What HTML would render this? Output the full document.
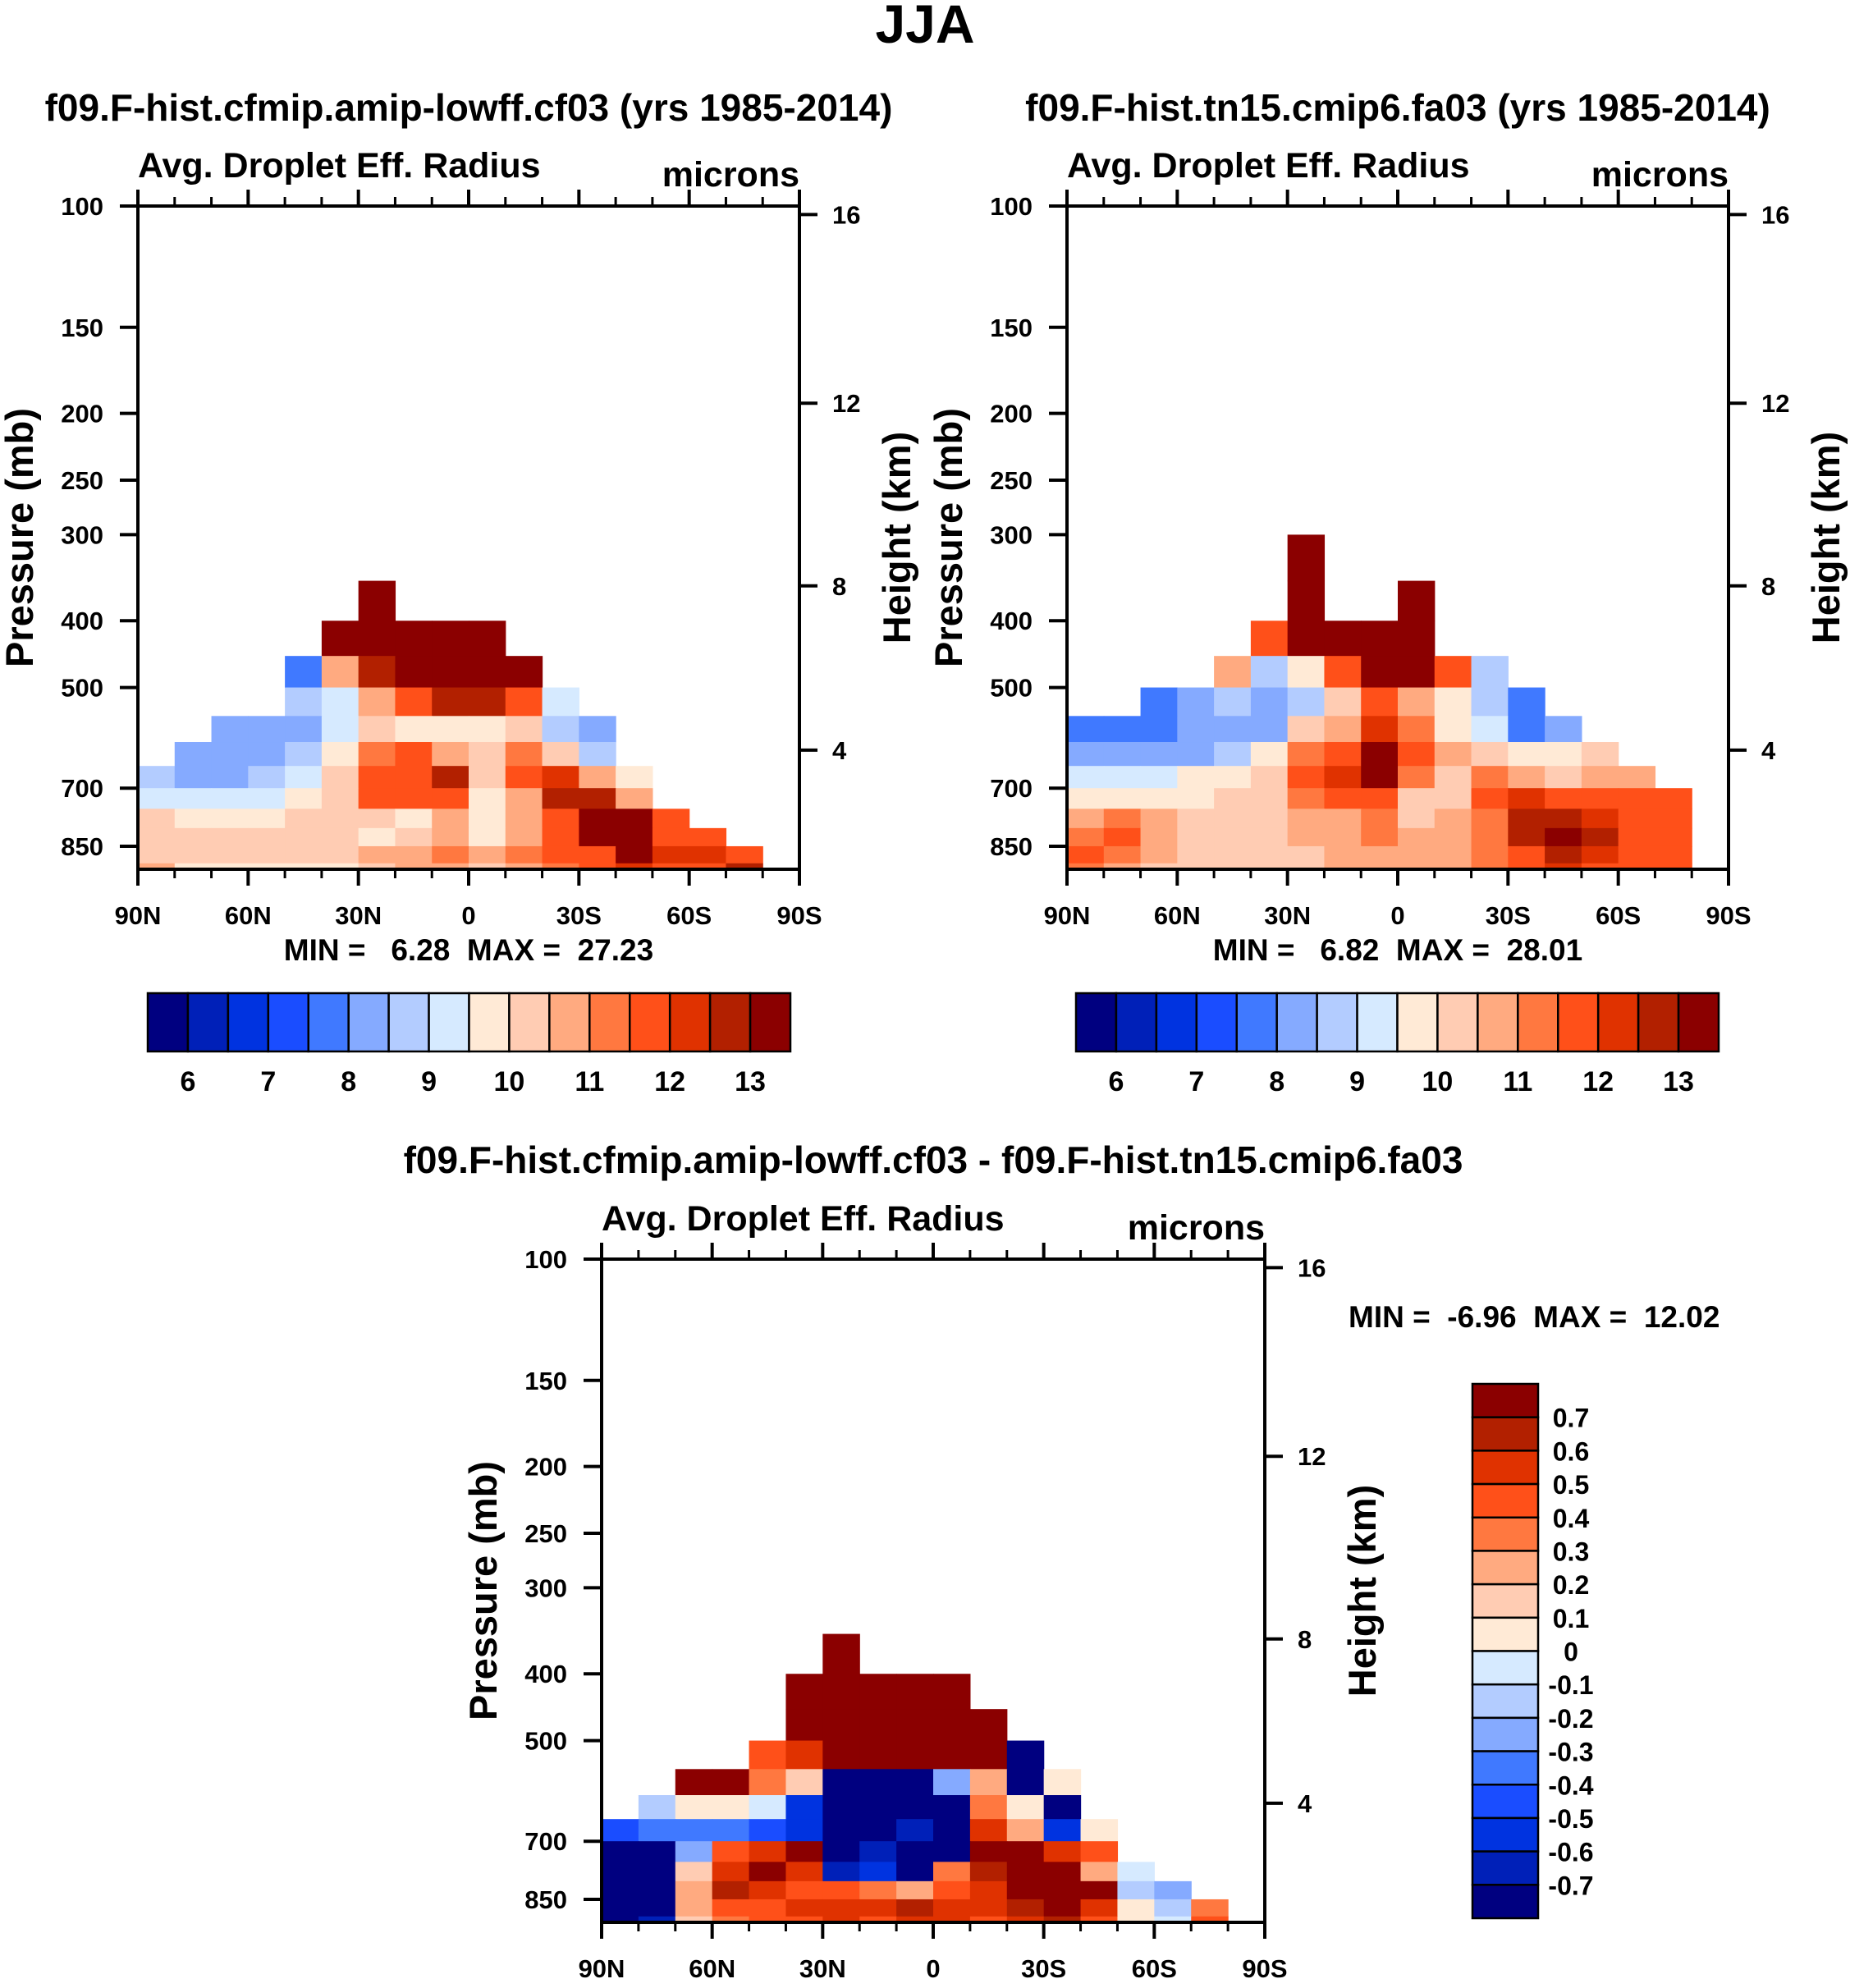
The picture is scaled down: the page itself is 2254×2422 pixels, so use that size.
<!DOCTYPE html>
<html><head><meta charset="utf-8"><style>
html,body{margin:0;padding:0;background:#fff;}
svg text{font-family:"Liberation Sans",sans-serif;font-weight:bold;fill:#000;white-space:pre;}
</style></head><body>
<svg id="fig" xmlns="http://www.w3.org/2000/svg" width="2254" height="2417" viewBox="0 0 2254 2417">
<rect width="2254" height="2417" fill="#fff"/>
<text x="1127" y="52" font-size="66" text-anchor="middle">JJA</text>
</svg>
<script>
const n = null;
const colors = ["#000080","#0020b8","#0033e0","#1a4dff","#4079ff","#85aaff","#b3ccff","#d6eaff","#ffead6","#ffccb3","#ffaa80","#ff7840","#ff5019","#e03200","#b22000","#8b0000"];
const absBounds = [6,6.5,7,7.5,8,8.5,9,9.5,10,10.5,11,11.5,12,12.5,13];
const absLabels = ["6","7","8","9","10","11","12","13"];
const diffBounds = [-0.7,-0.6,-0.5,-0.4,-0.3,-0.2,-0.1,0,0.1,0.2,0.3,0.4,0.5,0.6,0.7];
const diffLabels = ["0.7","0.6","0.5","0.4","0.3","0.2","0.1","0","-0.1","-0.2","-0.3","-0.4","-0.5","-0.6","-0.7"];
const latEdges = [90,80,70,60,50,40,30,20,10,0,-10,-20,-30,-40,-50,-60,-70,-80,-90];
const pEdges = [300,350,400,450,500,550,600,650,700,750,800,850,900,918];
const pTicks = [100,150,200,250,300,400,500,700,850];
const zTicks = [4,8,12,16];
const latTicks = [90,60,30,0,-30,-60,-90];
const latTickLabels = ["90N","60N","30N","0","30S","60S","90S"];
const ctrlData = [
[n,n,n,n,n,n,n,n,n,n,n,n,n,n,n,n,n,n],
[n,n,n,n,n,n,14,n,n,n,n,n,n,n,n,n,n,n],
[n,n,n,n,n,14,14,14,14,14,n,n,n,n,n,n,n,n],
[n,n,n,n,8,11,13,14,14,14,14,n,n,n,n,n,n,n],
[n,n,n,n,9,9.5,11,12,13,13,12,9.5,n,n,n,n,n,n],
[n,n,8.5,8.5,8.5,9.5,10.5,10,10,10,10.5,9,8.5,n,n,n,n,n],
[n,8.5,8.5,8.5,9,10,11.5,12,11,10.5,11.5,10.5,9,n,n,n,n,n],
[9,8.5,8.5,9,9.5,10.5,12,12,13,10.5,12,12.5,11,10,n,n,n,n],
[9.5,9.5,9.5,9.5,10,10.5,12,12,12,10,11,13,13,11,n,n,n,n],
[10.5,10,10,10,10.5,10.5,10.5,10,11,10,11,12,13.5,13.5,12,n,n,n],
[10.5,10.5,10.5,10.5,10.5,10.5,10,10.5,11,10,11,12,13.5,14,12,12,n,n],
[10.5,10.5,10.5,10.5,10.5,10.5,11,11,11.5,11,11.5,12,12,13.5,12.5,12.5,12,n],
[11,10,10,10,10,10,10.5,11,11,10.5,11,11.5,12,12.5,12,12,13,n]];
const testData = [
[n,n,n,n,n,n,14,n,n,n,n,n,n,n,n,n,n,n],
[n,n,n,n,n,n,14,n,n,14,n,n,n,n,n,n,n,n],
[n,n,n,n,n,12,14,14,14,14,n,n,n,n,n,n,n,n],
[n,n,n,n,11,9,10,12,14,13.5,12,9,n,n,n,n,n,n],
[n,n,8,8.5,9,8.5,9,10.5,12,11,10,9,8,n,n,n,n,n],
[8,8,8,8.5,8.5,8.5,10.5,11,12.5,11.5,10,9.5,8,8.5,n,n,n,n],
[8.5,8.5,8.5,8.5,9,10,11.5,12,13.5,12,11,10.5,10,10,10.5,n,n,n],
[9.5,9.5,9.5,10,10,10.5,12,12.5,13.5,11.5,10.5,11.5,11,10.5,11,11,n,n],
[10,10,10,10,10.5,10.5,11.5,12,12,10.5,10.5,12,12.5,12,12,12,12,n],
[11,11.5,11,10.5,10.5,10.5,11,11,11.5,10.5,11,11.5,13,13,12.5,12,12,n],
[11.5,12,11,10.5,10.5,10.5,11,11,11.5,11,11,11.5,13,14,13,12,12,n],
[12,11.5,11,10.5,10.5,10.5,10.5,11,11,11,11,11.5,12,13,12.5,12,12,n],
[11.5,11,10.5,10.5,10.5,10.5,10.5,11,11,11,11,11.5,12,12.5,12,12,12,n]];
const diffData = [
[n,n,n,n,n,n,n,n,n,n,n,n,n,n,n,n,n,n],
[n,n,n,n,n,n,0.8,n,n,n,n,n,n,n,n,n,n,n],
[n,n,n,n,n,0.8,0.8,0.8,0.8,0.8,n,n,n,n,n,n,n,n],
[n,n,n,n,n,0.8,0.8,0.8,0.8,0.8,0.8,n,n,n,n,n,n,n],
[n,n,n,n,0.5,0.6,0.8,0.8,0.8,0.8,0.8,-0.8,n,n,n,n,n,n],
[n,n,0.8,0.8,0.4,0.2,-0.8,-0.8,-0.8,-0.2,0.3,-0.8,0.1,n,n,n,n,n],
[n,-0.1,0.1,0.1,0,-0.5,-0.8,-0.8,-0.8,-0.8,0.4,0.1,-0.8,n,n,n,n,n],
[-0.4,-0.3,-0.3,-0.3,-0.4,-0.5,-0.8,-0.8,-0.6,-0.8,0.6,0.3,-0.5,0.1,n,n,n,n],
[-0.8,-0.8,-0.2,0.5,0.6,0.8,-0.8,-0.6,-0.8,-0.8,0.8,0.8,0.6,0.5,n,n,n,n],
[-0.8,-0.8,0.2,0.6,0.8,0.6,-0.6,-0.5,-0.8,0.4,0.7,0.8,0.8,0.3,0,n,n,n],
[-0.8,-0.8,0.3,0.7,0.6,0.5,0.5,0.4,0.3,0.5,0.6,0.8,0.8,0.8,-0.1,-0.2,n,n],
[-0.8,-0.7,0.3,0.5,0.5,0.6,0.6,0.6,0.7,0.6,0.6,0.7,0.8,0.6,0.1,-0.1,0.4,n],
[-0.8,-0.6,0.2,0.4,0.5,0.5,0.6,0.5,0.6,0.6,0.5,0.6,0.7,0.5,0.1,0,0.5,n]];

const svg = document.getElementById('fig');
const NS = 'http://www.w3.org/2000/svg';
function mk(tag, attrs, parent){const e=document.createElementNS(NS,tag);for(const k in attrs)e.setAttribute(k,attrs[k]);(parent||svg).appendChild(e);return e;}
function txt(s, attrs, parent){const e=mk('text',attrs,parent);e.textContent=s;return e;}
function colorOf(v,b){let i=0;while(i<b.length&&v>b[i]+1e-9)i++;return colors[i];}
function zToP(z){const m=z*1000; return m<=11000?1013.25*Math.pow(1-2.25577e-5*m,5.25588):226.32*Math.exp(-(m-11000)/6341.6);}

function panel(x0,y0,w,h,data,bounds,name){
  const g=mk('g',{});
  
  
  const l0=Math.log(100), l1=Math.log(918);
  const xS=lat=>x0+(90-lat)/180*w;
  const yS=p=>y0+(Math.log(p)-l0)/(l1-l0)*h;
  const yZ=z=>yS(zToP(z));
  for(let r=0;r<data.length;r++)for(let c=0;c<data[r].length;c++){
    const v=data[r][c]; if(v===null)continue;
    const xa=xS(latEdges[c]), xb=xS(latEdges[c+1]), ya=yS(pEdges[r]), yb=yS(pEdges[r+1]);
    const cell=mk('rect',{x:xa,y:ya,width:xb-xa+0.6,height:yb-ya+0.6,fill:colorOf(v,bounds)},g);
    
    
  }
  const fr=mk('rect',{x:x0,y:y0,width:w,height:h,fill:'none',stroke:'#000','stroke-width':4},g);
  
  
  for(let lat=90;lat>=-90;lat-=10){
    const x=xS(lat), maj=(lat%30===0), L=maj?20:11;
    mk('line',{x1:x,y1:y0,x2:x,y2:y0-L,stroke:'#000','stroke-width':maj?4:3},g);
    mk('line',{x1:x,y1:y0+h,x2:x,y2:y0+h+L,stroke:'#000','stroke-width':maj?4:3},g);
  }
  latTicks.forEach((lat,i)=>{
    const t=txt(latTickLabels[i],{x:xS(lat),y:y0+h+67,'font-size':31,'text-anchor':'middle'},g);
    
    
  });
  pTicks.forEach(p=>{
    const y=yS(p);
    mk('line',{x1:x0,y1:y,x2:x0-22,y2:y,stroke:'#000','stroke-width':4},g);
    const t=txt(String(p),{x:x0-42,y:y+11,'font-size':31,'text-anchor':'end'},g);
    
    
  });
  zTicks.forEach(z=>{
    const y=yZ(z);
    mk('line',{x1:x0+w,y1:y,x2:x0+w+22,y2:y,stroke:'#000','stroke-width':4},g);
    const t=txt(String(z),{x:x0+w+40,y:y+11,'font-size':31},g);
    
    
  });
  const yl=txt('Pressure (mb)',{x:0,y:0,'font-size':47,'text-anchor':'middle',transform:`translate(${x0-128},${y0+h/2}) rotate(-90)`},g);
  
  
  const zl=txt('Height (km)',{x:0,y:0,'font-size':47,'text-anchor':'middle',transform:`translate(${x0+w+135},${y0+h/2}) rotate(-90)`},g);
  
  
  const a=txt('Avg. Droplet Eff. Radius',{x:x0,y:y0-35,'font-size':43},g);
  
  
  const u=txt('microns',{x:x0+w,y:y0-24,'font-size':43,'text-anchor':'end'},g);
  
  
}

function hbar(x0,y0,w,h,labels,name){
  const g=mk('g',{});
  
  
  const bw=w/colors.length;
  colors.forEach((c,i)=>{const r=mk('rect',{x:x0+i*bw,y:y0,width:bw,height:h,fill:c,stroke:'#000','stroke-width':2.5},g);
    
    });
  labels.forEach((s,i)=>{const t=txt(s,{x:x0+(2*i+1)*bw,y:y0+h+48,'font-size':34,'text-anchor':'middle'},g);
    
    });
}
function vbar(x0,y0,w,h,labels,name){
  const g=mk('g',{});
  
  
  const bh=h/colors.length;
  colors.slice().reverse().forEach((c,i)=>{const r=mk('rect',{x:x0,y:y0+i*bh,width:w,height:bh,fill:c,stroke:'#000','stroke-width':2.5},g);
    
    });
  labels.forEach((s,i)=>{const t=txt(s,{x:x0+w+40,y:y0+(i+1)*bh+12,'font-size':32,'text-anchor':'middle'},g);
    
    });
}

function title(s,x,y,size,nm){const t=txt(s,{x:x,y:y,'font-size':size,'text-anchor':'middle'});
  
  }

title('f09.F-hist.cfmip.amip-lowff.cf03 (yrs 1985-2014)',571,147,46,'panel1-title');
title('f09.F-hist.tn15.cmip6.fa03 (yrs 1985-2014)',1703,147,46,'panel2-title');
title('f09.F-hist.cfmip.amip-lowff.cf03 - f09.F-hist.tn15.cmip6.fa03',1137,1429,46,'diff-title');

panel(168,251,806,808,ctrlData,absBounds,'panel-control');
panel(1300,251,806,808,testData,absBounds,'panel-test');
panel(733,1534,808,808,diffData,diffBounds,'panel-diff');

title('MIN =   6.28  MAX =  27.23',571,1170,37,'panel1-minmax');
title('MIN =   6.82  MAX =  28.01',1703,1170,37,'panel2-minmax');
const mm=txt('MIN =  -6.96  MAX =  12.02',{x:1643,y:1617,'font-size':37});



hbar(180,1210,783,71,absLabels,'colorbar-control');
hbar(1311,1210,783,71,absLabels,'colorbar-test');
vbar(1794,1686,80,651,diffLabels,'colorbar-diff');
</script>
</body></html>
